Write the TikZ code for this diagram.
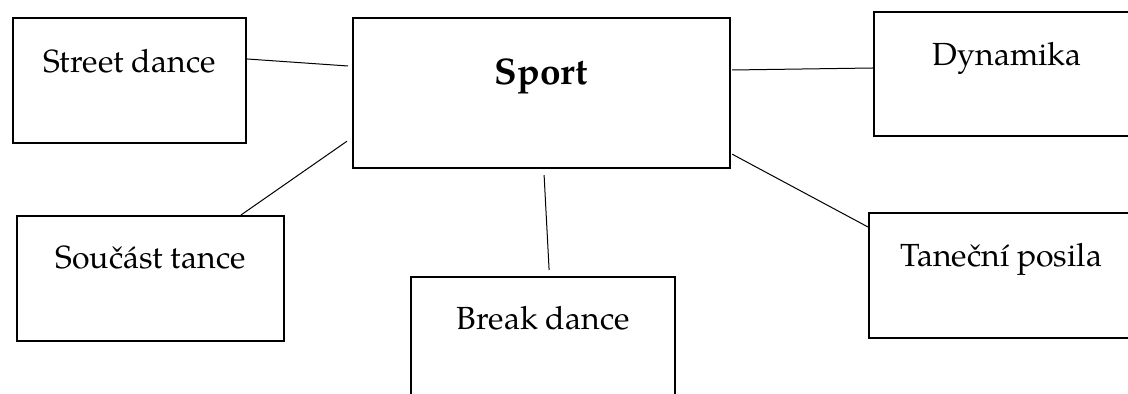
\documentclass[tikz,border=0pt]{standalone}
\usepackage{fontspec}
\setmainfont{texgyrepagella}[Extension=.otf, UprightFont=*-regular, BoldFont=*-bold]
\usepackage{tikz}
\usetikzlibrary{shapes,positioning,calc}

\begin{document}
\begin{tikzpicture}[x=0.5pt, y=-0.5pt,
					box/.style={draw, rectangle, line width=1.1pt, inner sep=0pt, anchor=north west, font=\fontsize{16}{19}\selectfont},
					link/.style={draw, line width=0.5pt}]
				\clip (0,0) rectangle (1128,394);
				\node[box, minimum width=116.5pt, text height=27pt, text depth=35.5pt] (street) at (12,17) {Street dance};
				\node[box, minimum width=188.5pt, text height=33pt, text depth=42pt, font=\fontsize{18.5}{22}\selectfont\bfseries] (sport) at (352,17) {Sport};
				\node[box, minimum width=133pt, text height=26.5pt, text depth=35.5pt] (dyn) at (873,11) {Dynamika};
				\node[box, minimum width=133.5pt, text height=26pt, text depth=36.5pt] (soucast) at (16,215) {Součást tance};
				\node[box, minimum width=132pt, text height=26pt, text depth=46pt] (break) at (410,276) {Break dance};
				\node[box, minimum width=132pt, text height=26.5pt, text depth=36pt] (posila) at (868,212) {Taneční posila};
				\draw[link] ($(street.north east)+(0,42)$) -- ($(sport.north west)+(-4,49)$);
				\draw[link] ($(sport.north east)+(1,53)$) -- ($(dyn.north west)+(0,57)$);
				\draw[link] ($(sport.south west)+(-5,-28)$) -- ($(soucast.north west)+(225,0)$);
				\draw[link] ($(sport.south)+(2.5,6)$) -- ($(break.north)+(6,-6)$);
				\draw[link] ($(sport.south east)+(1,-15)$) -- ($(posila.north west)+(0,15)$);
			\end{tikzpicture}
\end{document}
